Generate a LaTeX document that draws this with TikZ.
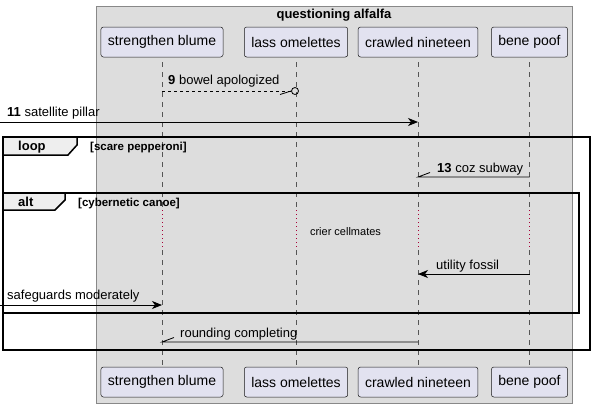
\documentclass[tikz,border=0pt]{standalone}
\usepackage{fontspec}
\setmainfont{Liberation Sans}
\usetikzlibrary{arrows.meta}

\definecolor{boxgray}{RGB}{221,221,221}
\definecolor{boxline}{RGB}{136,136,136}
\definecolor{partfill}{RGB}{226,226,240}
\definecolor{partline}{RGB}{24,24,24}
\definecolor{lifeline}{RGB}{85,85,85}
\definecolor{delayred}{RGB}{168,0,54}
\definecolor{tabgray}{RGB}{238,238,238}

\tikzset{
	part/.style={draw=partline, fill=partfill, rounded corners=2.5pt, line width=0.5pt,
		minimum height=30pt, inner xsep=7pt, font=\fontsize{14}{16}\selectfont},
	life/.style={draw=lifeline, dash pattern=on 5pt off 5pt, line width=0.5pt},
	delay/.style={draw=delayred, dash pattern=on 1pt off 3pt, line width=0.7pt},
	msg/.style={line width=0.8pt},
	head/.style={-{Stealth[length=10pt,width=8pt,inset=3pt]}},
	msgtxt/.style={anchor=base west, inner sep=0pt, font=\fontsize{13}{15}\selectfont},
	guard/.style={anchor=base west, inner sep=0pt, font=\bfseries\fontsize{11.5}{13}\selectfont},
	frame/.style={line width=1.5pt},
	tab/.style={fill=tabgray, line width=1.5pt}
}

\begin{document}
\begin{tikzpicture}[x=1pt, y=-1pt]
		\useasboundingbox (0,0) rectangle (593,408);
		\draw[draw=boxline, fill=boxgray, line width=0.5pt] (96,6) rectangle (572,403);
		\node[font=\bfseries\fontsize{13}{15}\selectfont] (title) at (334,15) {questioning alfalfa};

		\coordinate (SB) at (162, 42);
		\coordinate (LO) at (296, 42);
		\coordinate (CN) at (418, 42);
		\coordinate (BP) at (529.5, 42);
		\coordinate (SBe) at (162, 382);
		\coordinate (LOe) at (296, 382);
		\coordinate (CNe) at (418, 382);
		\coordinate (BPe) at (529.5, 382);

		% 生命線
		\coordinate (SB1) at (162, 210);
		\coordinate (SB2) at (162, 250);
		\coordinate (LO1) at (296, 210);
		\coordinate (LO2) at (296, 250);
		\coordinate (CN1) at (418, 210);
		\coordinate (CN2) at (418, 250);
		\coordinate (BP1) at (529.5, 210);
		\coordinate (BP2) at (529.5, 250);
		\draw[life] (SB) -- (SB1);
		\draw[delay] (SB1) -- (SB2);
		\draw[life] (SB2) -- (SBe);
		\draw[life] (LO) -- (LO1);
		\draw[delay] (LO1) -- (LO2);
		\draw[life] (LO2) -- (LOe);
		\draw[life] (CN) -- (CN1);
		\draw[delay] (CN1) -- (CN2);
		\draw[life] (CN2) -- (CNe);
		\draw[life] (BP) -- (BP1);
		\draw[delay] (BP1) -- (BP2);
		\draw[life] (BP2) -- (BPe);

		\node[part] (sbtop) at (SB) {strengthen blume};
		\node[part] (lotop) at (LO) {lass omelettes};
		\node[part] (cntop) at (CN) {crawled nineteen};
		\node[part] (bptop) at (BP) {bene poof};
		\node[part] (sbbot) at (SBe) {strengthen blume};
		\node[part] (lobot) at (LOe) {lass omelettes};
		\node[part] (cnbot) at (CNe) {crawled nineteen};
		\node[part] (bpbot) at (BPe) {bene poof};

		% loop / alt
		\draw[frame] (3,137) rectangle (590,350);
		\draw[tab] (3,137) -- (77,137) -- (77,145) -- (68,155) -- (3,155) -- cycle;
		\node[anchor=base west, inner sep=0pt, font=\bfseries\fontsize{13}{15}\selectfont] (loop) at (18,150) {loop};
		\node[guard] (loopg) at (90,150) {[scare pepperoni]};
		\draw[frame] (3,193) rectangle (579,313);
		\draw[tab] (3,193) -- (65,193) -- (65,200) -- (55,210) -- (3,210) -- cycle;
		\node[anchor=base west, inner sep=0pt, font=\bfseries\fontsize{13}{15}\selectfont] (alt) at (18,206) {alt};
		\node[guard] (altg) at (78,206) {[cybernetic canoe]};

		% メッセージ
		\coordinate (A9) at (162, 91);
		\node[circle, draw, line width=0.8pt, inner sep=0pt, minimum size=7pt] (B9) at (295, 91) {};
		\draw[msg, dashed] (A9) -- (B9.west);
		\draw[msg] (B9.west) -- (280, 94.5);
		\node[msgtxt] at (168, 84) {\textbf{9} bowel apologized};

		\coordinate (A11) at (0, 122);
		\coordinate (B11) at (418, 122);
		\draw[msg, head] (A11) -- (B11);
		\node[msgtxt] at (7, 116.5) {\textbf{11} satellite pillar};

		\coordinate (A13) at (529.5, 177);
		\coordinate (B13) at (418, 177);
		\draw[msg] (A13) -- (B13) -- (430, 172.5);
		\node[msgtxt] at (437, 172.5) {\textbf{13} coz subway};

		\node[font=\fontsize{11}{13}\selectfont] (delaytxt) at (345.5, 232) {crier cellmates};

		\coordinate (Au) at (529.5, 274);
		\coordinate (Bu) at (418, 274);
		\draw[msg, head] (Au) -- (Bu);
		\node[msgtxt] at (436, 269) {utility fossil};

		\coordinate (As) at (0, 305);
		\coordinate (Bs) at (162, 305);
		\draw[msg, head] (As) -- (Bs);
		\node[msgtxt] at (7, 299) {safeguards moderately};

		\coordinate (Ar) at (418, 342);
		\coordinate (Br) at (162, 342);
		\draw[msg] (Ar) -- (Br) -- (174, 337.5);
		\node[msgtxt] at (180, 337.5) {rounding completing};
	\end{tikzpicture}
\end{document}
